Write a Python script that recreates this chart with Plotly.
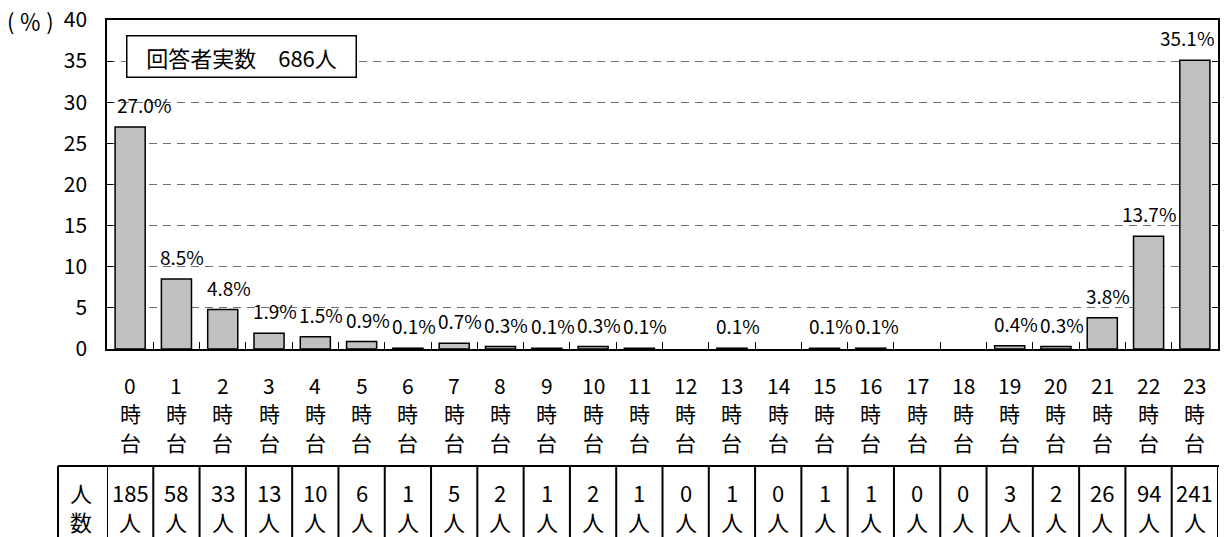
import plotly.graph_objects as go

hours = list(range(24))
categories = [f"{h}時台" for h in hours]
percent = [27.0, 8.5, 4.8, 1.9, 1.5, 0.9, 0.1, 0.7, 0.3, 0.1, 0.3, 0.1, 0.0, 0.1,
           0.0, 0.1, 0.1, 0.0, 0.0, 0.4, 0.3, 3.8, 13.7, 35.1]
counts = [185, 58, 33, 13, 10, 6, 1, 5, 2, 1, 2, 1, 0, 1, 0, 1, 1, 0, 0, 3, 2, 26, 94, 241]
respondents = 686
y_ticks = [0, 5, 10, 15, 20, 25, 30, 35, 40]

FONT = "Noto Sans CJK JP, Noto Sans, sans-serif"


def f(size):
    return dict(family=FONT, size=size, color="black")


fig = go.Figure()
fig.add_trace(go.Bar(
    x=categories, y=percent, width=0.65,
    marker=dict(color="#c0c0c0",
                line=dict(color="black", width=[1.5 if v > 0 else 0 for v in percent])),
    hoverinfo="skip", showlegend=False,
))

annotations = []
# data labels
label_xshift = {0: 14, 22: 0, 23: -8}
for i, v in enumerate(percent):
    if v > 0:
        annotations.append(dict(
            x=i, y=v, xref="x", yref="y", text=f"{v:.1f}%", showarrow=False,
            xanchor="center", yanchor="bottom", yshift=7, xshift=label_xshift.get(i, 6),
            font=f(19)))

# x category labels (stacked vertically)
for i, h in enumerate(hours):
    for txt, ys in ((str(h), -36), ("時", -64), ("台", -93)):
        annotations.append(dict(
            x=i, y=0, xref="x", yref="paper", text=txt, showarrow=False,
            xanchor="center", yanchor="middle", yshift=ys, font=f(21)))

# table text
for txt, ys in (("人", -143), ("数", -172)):
    annotations.append(dict(x=0, y=0, xref="paper", yref="paper", text=txt, showarrow=False,
                            xanchor="center", yanchor="middle", xshift=-26, yshift=ys,
                            font=f(22)))
for i, c in enumerate(counts):
    for txt, ys in ((str(c), -143), ("人", -172)):
        annotations.append(dict(
            x=i, y=0, xref="x", yref="paper", text=txt, showarrow=False,
            xanchor="center", yanchor="middle", yshift=ys, font=f(22)))

# unit label
annotations.append(dict(x=0, y=1, xref="paper", yref="paper", text="( ％ )", showarrow=False,
                        xanchor="right", yanchor="middle", xshift=-51, yshift=0,
                        font=f(22)))
# respondent box
annotations.append(dict(x=0, y=1, xref="paper", yref="paper",
                        text=f"回答者実数　{respondents}人", showarrow=False,
                        xanchor="left", yanchor="top", xshift=19, yshift=-15,
                        width=228, height=40, borderpad=0,
                        bordercolor="black", borderwidth=1.5, bgcolor="white",
                        font=f(22)))

shapes = []
n = len(hours)
# table outer frame: top line and left edge (paper-referenced so they are not clipped)
shapes.append(dict(type="line", xref="paper", yref="paper", xsizemode="pixel", ysizemode="pixel",
                   xanchor=0, yanchor=0, x0=-49, x1=1112, y0=-117, y1=-117,
                   line=dict(color="black", width=2)))
shapes.append(dict(type="line", xref="paper", yref="paper", xsizemode="pixel", ysizemode="pixel",
                   xanchor=0, yanchor=0, x0=-49, x1=-49, y0=-117, y1=-230,
                   line=dict(color="black", width=2)))
# column separators on category boundaries
for k in range(n + 1):
    shapes.append(dict(type="line", xref="x", yref="paper", ysizemode="pixel", yanchor=0,
                       x0=k - 0.5, x1=k - 0.5, y0=-117, y1=-230,
                       line=dict(color="black", width=2)))

fig.update_layout(
    width=1229, height=537,
    margin=dict(l=107, r=11, t=20, b=188, autoexpand=False),
    paper_bgcolor="white", plot_bgcolor="white",
    bargap=0.35,
    font=dict(family=FONT, color="black"),
    annotations=annotations, shapes=shapes,
    xaxis=dict(type="category", range=[-0.5, n - 0.5], autorange=False,
               showticklabels=False, tickson="boundaries",
               ticks="inside", ticklen=7, tickcolor="black", tickwidth=1,
               showline=True, linecolor="black", linewidth=1.5, mirror=True,
               showgrid=False, fixedrange=True, automargin=False),
    yaxis=dict(range=[0, 40], tickvals=y_ticks, ticks="inside", ticklen=6,
               tickcolor="black", tickwidth=1,
               showline=True, linecolor="black", linewidth=1.5, mirror="ticks",
               showgrid=True, gridcolor="#6e6e6e", gridwidth=1, griddash="8px,6px",
               zeroline=False, ticklabelstandoff=14, automargin=False,
               tickfont=f(21), fixedrange=True),
)

fig.write_html("out.html", config={"displayModeBar": False},
               post_script="document.body.style.margin='0';document.body.style.overflow='hidden';")
